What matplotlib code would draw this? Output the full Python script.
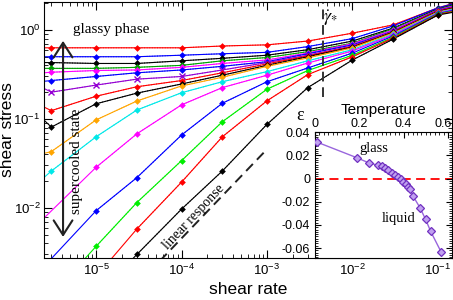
import numpy as np
import matplotlib
matplotlib.use('Agg')
import matplotlib.pyplot as plt
from matplotlib.ticker import LogLocator, MultipleLocator, NullFormatter
from matplotlib.patches import FancyArrowPatch
from matplotlib.transforms import ScaledTranslation

plt.rcParams['font.family'] = ['Liberation Sans', 'DejaVu Sans']
plt.rcParams['axes.unicode_minus'] = False

# shear rates where the markers sit
rates = [3e-6, 1e-5, 3e-5, 1e-4, 3e-4, 1e-3, 3e-3, 1e-2, 3e-2, 1e-1]
rate_left = 2.46e-6
rate_right = 0.146

colors = ['#ff0000', '#0000ff', '#000000', '#00a000', '#ff00ff', '#0000ff',
          '#9400d3', '#ff0000', '#000000', '#ffa500', '#00e8e8', '#ff00ff',
          '#0000ff', '#00ee00', '#ff0000', '#000000']

N = None
stress = [
    [0.63, 0.63, 0.63, 0.63, 0.66, 0.68, 0.75, 0.92, 1.14, 1.77],
    [0.50, 0.50, 0.50, 0.52, 0.54, 0.56, 0.65, 0.80, 1.11, 1.77],
    [0.43, 0.42, 0.42, 0.45, 0.48, 0.52, 0.60, 0.75, 1.05, 1.72],
    [0.37, 0.37, 0.38, 0.40, 0.45, 0.49, 0.57, 0.71, 1.03, 1.70],
    [0.335, 0.35, 0.355, 0.38, 0.42, 0.46, 0.55, 0.70, 1.00, 1.68],
    [0.27, 0.30, 0.33, 0.355, 0.39, 0.44, 0.54, 0.68, 0.97, 1.66],
    [0.20, 0.24, 0.28, 0.30, 0.355, 0.43, 0.52, 0.66, 0.96, 1.64],
    [0.124, 0.18, 0.23, 0.27, 0.33, 0.415, 0.51, 0.65, 0.95, 1.64],
    [0.081, 0.148, 0.195, 0.247, 0.31, 0.40, 0.50, 0.64, 0.94, 1.61],
    [0.043, 0.0975, 0.159, 0.235, 0.294, 0.39, 0.485, 0.63, 0.925, 1.59],
    [0.026, 0.063, 0.126, 0.197, 0.262, 0.34, 0.45, 0.60, 0.90, 1.57],
    [N, 0.0286, 0.068, 0.144, 0.225, 0.31, 0.425, 0.58, 0.88, 1.55],
    [N, 0.0093, 0.0219, 0.066, 0.150, 0.262, 0.374, 0.55, 0.856, 1.53],
    [N, 0.0037, 0.0115, 0.034, 0.093, 0.216, 0.35, 0.52, 0.83, 1.51],
    [N, N, 0.0058, 0.0195, 0.063, 0.16, 0.315, 0.50, 0.81, 1.49],
    [N, N, 0.0030, 0.0097, 0.026, 0.087, 0.225, 0.46, 0.79, 1.47],
]
# fitted lines at the left and right edge of the plot
stress_left = [0.63, 0.50, 0.43, 0.37, 0.33, 0.265, 0.22, 0.136, 0.097, 0.041,
               0.022, 0.0077, 0.0022, 0.00084, 0.00035, 0.00025]
stress_right = [1.97, 1.95, 1.90, 1.87, 1.84, 1.81, 1.79, 1.77, 1.75, 1.72,
                1.70, 1.67, 1.65, 1.62, 1.60, 1.57]

lin_rate = [5.6e-5, 1e-3]
lin_stress = [2.55e-3, 0.0457]
gamma_star = 4.5e-3

# inset: epsilon vs temperature
temp = [0.008, 0.188, 0.245, 0.286, 0.301, 0.316, 0.331, 0.346, 0.361, 0.376,
        0.388, 0.398, 0.409, 0.418, 0.429, 0.443, 0.474, 0.499, 0.522, 0.570]
eps = [0.0316, 0.0181, 0.0134, 0.0115, 0.0106, 0.0091, 0.0072, 0.0052, 0.0034,
       0.0014, -0.0006, -0.0029, -0.0049, -0.0072, -0.0092, -0.0153, -0.0253,
       -0.0353, -0.0457, -0.0638]

serif = 'Liberation Serif'

fig = plt.figure(figsize=(4.53, 3.0), dpi=100)
ax = fig.add_axes([44 / 453, 42 / 300, 408 / 453, 256 / 300])
ax.set_xscale('log')
ax.set_yscale('log')

r = np.array(rates)
for i, vals in enumerate(stress):
    v = np.array(vals, dtype=float)
    ok = np.isfinite(v)
    c = colors[i]
    lx = np.concatenate([[rate_left], r[ok], [rate_right]])
    ly = np.concatenate([[stress_left[i]], v[ok], [stress_right[i]]])
    ax.plot(lx, ly, '-', color=c, lw=0.8, zorder=2)
    ax.plot(r[ok], v[ok], ':', color=c, lw=0.7, zorder=2)
    if i == 6:
        ax.plot(r[ok], v[ok], 'x', color=c, ms=4, mew=1.0, zorder=3)
    else:
        ax.plot(r[ok], v[ok], 'D', color=c, ms=3.4, mew=0, zorder=3)

ax.plot(lin_rate, lin_stress, color='#222222', lw=1.4, dashes=(5, 3))
ax.axvline(gamma_star, ymin=0.63, color='#333333', lw=1.4, dashes=(5, 3))
ax.text(5.6e-3, 1.36, r'$\dot{\gamma}_{*}$', fontsize=13, ha='center', va='center',
        math_fontfamily='stix')

ax.add_patch(FancyArrowPatch((4.11e-6, 0.0044), (4.11e-6, 0.81),
                             arrowstyle='<->,head_length=0.7,head_width=0.45',
                             mutation_scale=15, lw=1.5, color='#222222', zorder=4))
ax.text(5.4e-6, 1.0, 'glassy phase', family=serif, fontsize=11, ha='left', va='center')
ax.text(5.84e-6, 0.0337, 'supercooled state', family=serif, fontsize=11,
        rotation=90, ha='center', va='center')
ax.text(1.38e-4, 0.0079, 'linear response', family=serif, fontsize=10,
        rotation=47, ha='center', va='center')

ax.set_xlim(rate_left, rate_right)
ax.set_ylim(2.74e-3, 2.06)
ax.xaxis.set_major_locator(LogLocator(base=10, numticks=12))
ax.xaxis.set_minor_locator(LogLocator(base=10, subs=np.arange(2, 10), numticks=12))
ax.yaxis.set_minor_locator(LogLocator(base=10, subs=np.arange(2, 10), numticks=12))
ax.xaxis.set_minor_formatter(NullFormatter())
ax.yaxis.set_minor_formatter(NullFormatter())
ax.tick_params(which='both', direction='in', top=True, right=True, labelsize=9.5)
ax.tick_params(axis='y', pad=2.5)
ax.tick_params(which='major', length=6)
ax.tick_params(which='minor', length=3)
ax.set_xlabel('shear rate', fontsize=12.5)
ax.set_ylabel('shear stress', fontsize=12.5)
ax.xaxis.set_label_coords(0.5, -0.093)
ax.yaxis.set_label_coords(-0.072, 0.5)

# inset
ax_in = fig.add_axes([315 / 453, 42 / 300, 137 / 453, 125.7 / 300])
ax_in.plot(temp, eps, '-', color='#9966dd', lw=1.0, zorder=2)
ax_in.plot(temp, eps, 'D', ms=4, mfc='#c0a0f0', mec='#7030c0', mew=0.9, zorder=3)
ax_in.axhline(0, color='red', lw=1.3, dashes=(5, 3), zorder=1)
ax_in.set_xlim(0, 0.618)
ax_in.set_ylim(-0.0686, 0.04)
ax_in.xaxis.tick_top()
ax_in.xaxis.set_label_position('top')
ax_in.set_xticks([0, 0.2, 0.4, 0.6])
ax_in.set_xticklabels(['0', '0.2', '0.4', '0.6'])
ax_in.xaxis.set_minor_locator(MultipleLocator(0.02))
ax_in.set_yticks([-0.06, -0.04, -0.02, 0, 0.02, 0.04])
ax_in.set_yticklabels(['-0.06', '-0.04', '-0.02', '0', '0.02', '0.04'])
ax_in.yaxis.set_minor_locator(MultipleLocator(0.002))
ax_in.tick_params(which='both', direction='in', top=True, bottom=False,
                  left=True, right=True, labelright=False, labelbottom=False,
                  labelsize=9)
ax_in.tick_params(axis='x', pad=1.5)
ax_in.tick_params(which='major', length=4)
ax_in.tick_params(which='minor', length=2)
# keep the last temperature label inside the figure
last = ax_in.get_xticklabels(which='major')[-1]
last.set_transform(last.get_transform() + ScaledTranslation(-5 / 100, 0, fig.dpi_scale_trans))
ax_in.set_xlabel('Temperature', fontsize=11, labelpad=3)
ax_in.text(-0.11, 1.13, 'ε', family=serif, fontsize=13, ha='center', va='center',
           transform=ax_in.transAxes)
ax_in.text(0.266, 0.0261, 'glass', family=serif, fontsize=10.5, ha='center', va='center')
ax_in.text(0.379, -0.0342, 'liquid', family=serif, fontsize=10.5, ha='center', va='center')

fig.savefig('out.png', dpi=100)
